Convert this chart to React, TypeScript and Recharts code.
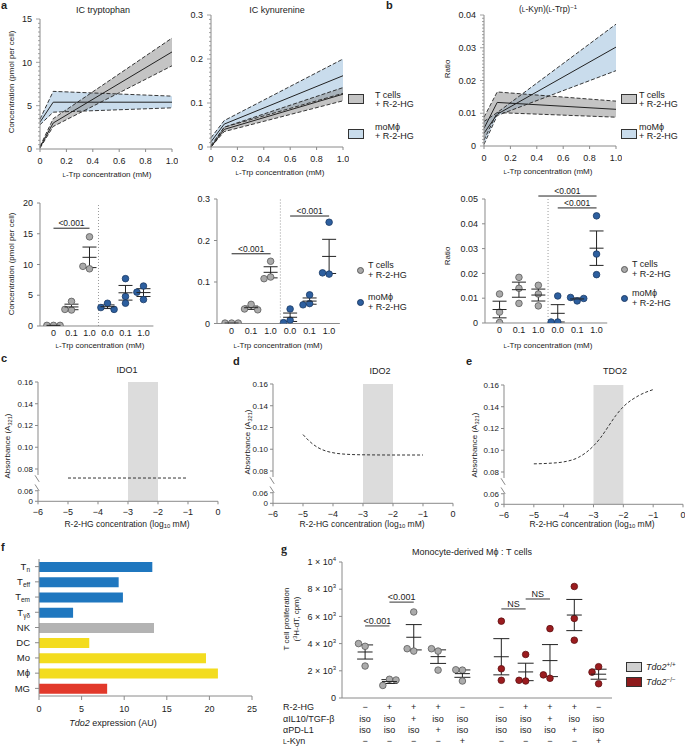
import React from 'react';
import {
  ComposedChart,
  ScatterChart,
  BarChart,
  Area,
  Line,
  Scatter,
  Bar,
  Cell,
  XAxis,
  YAxis,
  ErrorBar,
  ReferenceLine,
  ReferenceArea,
} from 'recharts';

const FONT = '"Liberation Sans", Arial, Helvetica, sans-serif';
const INK = '#222';
const AXIS = '#8a8a8a';
const TICK = { fontSize: 9, fill: INK };
const TICK_SMALL = { fontSize: 8, fill: INK };

// ---- a/b top: intracellular levels vs L-Trp dose (mean with SEM band)
const doses = [0, 0.1, 1.0];

const trpTcellMean = [0.2, 3.0, 11.2];
const trpTcellLow = [0.1, 2.6, 9.6];
const trpTcellHigh = [0.3, 3.5, 12.8];
const trpMacMean = [3.1, 5.4, 5.4];
const trpMacLow = [2.8, 4.25, 4.75];
const trpMacHigh = [3.45, 6.65, 6.1];

const kynTcellMean = [0.0, 0.04, 0.12];
const kynTcellLow = [0.0, 0.035, 0.105];
const kynTcellHigh = [0.001, 0.045, 0.135];
const kynMacMean = [0.012, 0.052, 0.162];
const kynMacLow = [0.004, 0.045, 0.122];
const kynMacHigh = [0.021, 0.06, 0.2];

const ratioTcellMean = [0.0054, 0.0133, 0.0112];
const ratioTcellLow = [0.0018, 0.0102, 0.0088];
const ratioTcellHigh = [0.0088, 0.0165, 0.0137];
const ratioMacMean = [0.0039, 0.0097, 0.0302];
const ratioMacLow = [0.0005, 0.0093, 0.023];
const ratioMacHigh = [0.0075, 0.0102, 0.0372];

// ---- a/b bottom: single replicates
const doseLabels = ['0', '0.1', '1.0', '0.0', '0.1', '1.0'];
const trpTcellDots = [[0.1, 0.1, 0.1], [4.0, 2.6, 2.7], [14.5, 9.3, 9.7]];
const trpMacDots = [[3.7, 3.0, 2.7], [7.7, 4.8, 3.7], [6.5, 5.5, 4.3]];
const kynTcellDots = [[0.001, 0.001, 0.001], [0.046, 0.035, 0.033], [0.15, 0.112, 0.108]];
const kynMacDots = [[0.035, 0.008, 0.002], [0.069, 0.048, 0.045], [0.244, 0.119, 0.122]];
const ratioTcellDots = [[0.0117, 0.0044, 0.0002], [0.0184, 0.014, 0.0079], [0.0152, 0.0117, 0.0069]];
const ratioMacDots = [[0.0109, 0.0004, 0.0004], [0.0089, 0.0103, 0.0099], [0.0432, 0.0278, 0.0195]];

const trpSigPairs = [[0, 2]];
const trpSigLevels = [15.9];
const kynSigPairs = [[0, 2], [3, 5]];
const kynSigLevels = [0.168, 0.259];
const ratioSigPairs = [[2, 5], [3, 5]];
const ratioSigLevels = [0.0512, 0.0464];

// ---- c/d/e: absorbance vs log10 R-2-HG
const ido1LogDose = [-5, -4, -3, -2, -1];
const ido1Abs = [0.0717, 0.0717, 0.0717, 0.0717, 0.0717];
const ido2LogDose = [-5, -4.75, -4.5, -4.25, -4, -3.5, -3, -2, -1];
const ido2Abs = [0.1135, 0.1065, 0.1015, 0.0985, 0.0968, 0.0953, 0.0949, 0.0947, 0.0947];
const tdo2LogDose = [-5, -4.5, -4, -3.5, -3, -2.75, -2.5, -2.25, -2, -1.5, -1];
const tdo2Abs = [0.0875, 0.088, 0.0893, 0.0935, 0.104, 0.112, 0.122, 0.132, 0.14, 0.15, 0.1558];

// ---- f: Tdo2 expression by cell type
const cellTypes = ['T_n', 'T_eff', 'T_em', 'T_γδ', 'NK', 'DC', 'Mo', 'Mϕ', 'MG'];
const lineage = ['T', 'T', 'T', 'T', 'NK', 'myeloid', 'myeloid', 'myeloid', 'microglia'];
const tdo2Expression = [13.3, 9.35, 9.85, 4.0, 13.5, 5.9, 19.6, 21.0, 8.0];

// ---- g: T cell proliferation
const genotype = ['wt', 'wt', 'wt', 'wt', 'wt', 'ko', 'ko', 'ko', 'ko', 'ko'];
const prolifDots = [
  [3800, 4000, 2350],
  [1375, 925, 1325],
  [6325, 3450, 3625],
  [3450, 3625, 2050],
  [2050, 2075, 1250],
  [5650, 2150, 1300],
  [3200, 1250, 1300],
  [5100, 1450, 1700],
  [8200, 5850, 4250],
  [2300, 1900, 1050],
];
const r2hgRow = ['−', '+', '+', '+', '−', '−', '+', '+', '+', '−'];
const il10Row = ['iso', 'iso', '+', 'iso', 'iso', 'iso', 'iso', '+', 'iso', 'iso'];
const pdl1Row = ['iso', 'iso', 'iso', '+', 'iso', 'iso', 'iso', 'iso', '+', 'iso'];
const kynRow = ['−', '−', '−', '−', '+', '−', '−', '−', '−', '+'];
const gSigPairs = [[0, 1], [1, 2], [5, 6], [6, 7]];
const gSigLevels = [5300, 7050, 6550, 7280];
const gSigText = ['<0.001', '<0.001', 'NS', 'NS'];

const LINEAGE_FILL: Record<string, string> = {
  T: '#1f77bf',
  NK: '#b3b3b3',
  myeloid: '#f3dc1f',
  microglia: '#e2392b',
};

type Box = { x: number; y: number; w: number; h: number };
type Pad = { l: number; r: number; t: number; b: number };

function place(box: Box, pad: Pad) {
  return {
    style: { position: 'absolute' as const, left: box.x - pad.l, top: box.y - pad.t },
    width: box.w + pad.l + pad.r,
    height: box.h + pad.t + pad.b,
    margin: { top: pad.t, right: pad.r, bottom: 0, left: 0 },
  };
}

const avg = (v: number[]) => v.reduce((a, b) => a + b, 0) / v.length;
const sem = (v: number[]) => {
  const m = avg(v);
  const sd = Math.sqrt(v.reduce((a, b) => a + (b - m) ** 2, 0) / (v.length - 1));
  return sd / Math.sqrt(v.length);
};

// spread replicates sideways when they would overlap
function swarm(values: number[], pos: number, pxPerY: number, pxPerX: number, d = 6.6) {
  const placed: { dx: number; py: number }[] = [];
  return values.map((v) => {
    const py = v * pxPerY;
    let dx = 0;
    for (const k of [0, -1, 1, -2, 2]) {
      const cand = k * d;
      if (placed.every((p) => Math.hypot(p.dx - cand, p.py - py) >= d * 0.95)) {
        dx = cand;
        break;
      }
    }
    placed.push({ dx, py });
    return { x: pos + dx / pxPerX, y: v };
  });
}

const dotShape = (fill: string, stroke: string) => (p: any) => (
  <circle cx={p.cx} cy={p.cy} r={3.3} fill={fill} stroke={stroke} strokeWidth={0.8} />
);
const meanShape = (half: number) => (p: any) => (
  <line x1={p.cx - half} x2={p.cx + half} y1={p.cy} y2={p.cy} stroke={INK} strokeWidth={1} />
);

function rulerTick(major: number, fmt: (v: number) => string) {
  return (p: any) => {
    const v = p.payload.value;
    const isMajor = Math.abs(v / major - Math.round(v / major)) < 1e-6;
    const len = isMajor ? 4 : 2;
    return (
      <g>
        <line x1={p.x - len} x2={p.x} y1={p.y} y2={p.y} stroke={AXIS} strokeWidth={0.8} />
        {isMajor && (
          <text x={p.x - 8} y={p.y + 3.2} textAnchor="end" fontSize={9} fill={INK}>
            {fmt(v)}
          </text>
        )}
      </g>
    );
  };
}

function BandChart({ box, yMax, major, minor, fmt, tMean, tLow, tHigh, mMean, mLow, mHigh }: any) {
  const pad = { l: 40, r: 6, t: 6, b: 22 };
  const f = place(box, pad);
  const data = doses.map((x, i) => ({
    x,
    tMean: tMean[i],
    tLow: tLow[i],
    tHigh: tHigh[i],
    tBand: [tLow[i], tHigh[i]],
    mMean: mMean[i],
    mLow: mLow[i],
    mHigh: mHigh[i],
    mBand: [mLow[i], mHigh[i]],
  }));
  const yTicks = Array.from({ length: Math.round(yMax / minor) + 1 }, (_, i) => +(i * minor).toFixed(6));
  const dash = { stroke: INK, strokeWidth: 0.9, strokeDasharray: '4 2', dot: false, activeDot: false, isAnimationActive: false, type: 'linear' as const };
  const solid = { stroke: INK, strokeWidth: 1, dot: false, activeDot: false, isAnimationActive: false, type: 'linear' as const };
  return (
    <div style={f.style}>
      <ComposedChart width={f.width} height={f.height} margin={f.margin} data={data}>
        <XAxis
          type="number"
          dataKey="x"
          domain={[0, 1]}
          ticks={[0, 0.2, 0.4, 0.6, 0.8, 1]}
          interval={0}
          tickFormatter={(v) => (v === 0 ? '0' : v.toFixed(1))}
          height={pad.b}
          tick={TICK}
          tickSize={3}
          tickMargin={6}
          axisLine={{ stroke: AXIS }}
          tickLine={{ stroke: AXIS }}
        />
        <YAxis
          type="number"
          domain={[0, yMax]}
          ticks={yTicks}
          interval={0}
          width={pad.l}
          tick={rulerTick(major, fmt)}
          tickSize={0}
          tickMargin={0}
          tickLine={false}
          axisLine={{ stroke: AXIS }}
          allowDataOverflow
        />
        <Area type="linear" dataKey="mBand" fill="#9dbfdd" fillOpacity={0.55} stroke="none" isAnimationActive={false} />
        <Area type="linear" dataKey="tBand" fill="#8a8a8a" fillOpacity={0.5} stroke="none" isAnimationActive={false} />
        <Line dataKey="mLow" {...dash} />
        <Line dataKey="mHigh" {...dash} />
        <Line dataKey="tLow" {...dash} />
        <Line dataKey="tHigh" {...dash} />
        <Line dataKey="mMean" {...solid} />
        <Line dataKey="tMean" {...solid} />
      </ComposedChart>
    </div>
  );
}

const DOT_OFFSET = 0.75;
const DOT_DOMAIN = 6.3;

function DotPanel({ box, slot, yMax, yTicks, fmt, tDots, mDots, sigPairs, sigLevels }: any) {
  const pad = { l: 40, r: 8, t: 34, b: 16 };
  const plot = { ...box, w: DOT_DOMAIN * slot };
  const f = place(plot, pad);
  const pxY = box.h / yMax;
  const groups: number[][] = [...tDots, ...mDots];
  const pos = groups.map((_, i) => i + DOT_OFFSET);
  const tPts: any[] = [];
  const mPts: any[] = [];
  const means = groups.map((vals, i) => {
    (i < tDots.length ? tPts : mPts).push(...swarm(vals, pos[i], pxY, slot));
    return { x: pos[i], y: avg(vals), err: sem(vals) };
  });
  return (
    <div style={f.style}>
      <ScatterChart width={f.width} height={f.height} margin={f.margin}>
        <XAxis
          type="number"
          dataKey="x"
          domain={[0, DOT_DOMAIN]}
          ticks={pos}
          interval={0}
          tickFormatter={(_v, i) => doseLabels[i]}
          height={pad.b}
          tick={TICK}
          tickSize={0}
          tickMargin={4}
          tickLine={false}
          axisLine={{ stroke: AXIS }}
          allowDataOverflow
        />
        <YAxis
          type="number"
          dataKey="y"
          domain={[0, yMax]}
          ticks={yTicks}
          interval={0}
          tickFormatter={fmt}
          width={pad.l}
          tick={TICK}
          tickSize={3}
          tickMargin={4}
          tickLine={{ stroke: AXIS }}
          axisLine={{ stroke: AXIS }}
          allowDataOverflow
        />
        <ReferenceLine x={DOT_OFFSET + 2.5} stroke="#9a9a9a" strokeDasharray="1 2" />
        {sigPairs.map(([a, b]: number[], i: number) => (
          <ReferenceLine
            key={i}
            segment={[
              { x: pos[a], y: sigLevels[i] },
              { x: pos[b], y: sigLevels[i] },
            ]}
            stroke={INK}
            strokeWidth={1}
            ifOverflow="visible"
            label={{ value: '<0.001', position: 'top', offset: 2, fontSize: 8.5, fill: INK }}
          />
        ))}
        <Scatter data={tPts} shape={dotShape('#a9a9a9', '#5a5a5a')} isAnimationActive={false} />
        <Scatter data={mPts} shape={dotShape('#2d5f9f', '#1c3b66')} isAnimationActive={false} />
        <Scatter data={means} shape={meanShape(7)} isAnimationActive={false}>
          <ErrorBar dataKey="err" width={7} stroke={INK} strokeWidth={1} direction="y" />
        </Scatter>
      </ScatterChart>
    </div>
  );
}

const ABS_ZERO = 0.0503;
const absTicks = [ABS_ZERO, 0.06, 0.08, 0.1, 0.12, 0.14, 0.16];
const breakMarks = [0.0712, 0.0628];

function AbsPanel({ box, xs, ys }: any) {
  const pad = { l: 34, r: 6, t: 4, b: 20 };
  const f = place(box, pad);
  const data = xs.map((x: number, i: number) => ({ x, y: ys[i] }));
  return (
    <div style={f.style}>
      <ComposedChart width={f.width} height={f.height} margin={f.margin} data={data}>
        <XAxis
          type="number"
          dataKey="x"
          domain={[-6, 0]}
          ticks={[-6, -5, -4, -3, -2, -1, 0]}
          interval={0}
          tickFormatter={(v) => (v < 0 ? `−${Math.abs(v)}` : String(v))}
          height={pad.b}
          tick={TICK}
          tickSize={3}
          tickMargin={4}
          tickLine={{ stroke: AXIS }}
          axisLine={{ stroke: AXIS }}
        />
        <YAxis
          type="number"
          domain={[ABS_ZERO, 0.16]}
          ticks={absTicks}
          interval={0}
          tickFormatter={(v) => (v < 0.055 ? '0' : v.toFixed(2))}
          width={pad.l}
          tick={TICK_SMALL}
          tickSize={3}
          tickMargin={2}
          tickLine={{ stroke: AXIS }}
          axisLine={false}
          allowDataOverflow
        />
        <ReferenceArea x1={-3} x2={-2} fill="#dcdcdc" fillOpacity={1} stroke="none" />
        <ReferenceLine segment={[{ x: -6, y: 0.16 }, { x: -6, y: 0.0745 }]} stroke={AXIS} ifOverflow="visible" />
        <ReferenceLine segment={[{ x: -6, y: 0.0605 }, { x: -6, y: ABS_ZERO }]} stroke={AXIS} ifOverflow="visible" />
        {breakMarks.map((yc, i) => (
          <ReferenceLine
            key={i}
            segment={[
              { x: -6.1, y: yc + 0.003 },
              { x: -5.96, y: yc - 0.003 },
            ]}
            stroke={AXIS}
            ifOverflow="visible"
          />
        ))}
        <Line
          dataKey="y"
          type="monotone"
          stroke="#333"
          strokeWidth={1}
          strokeDasharray="3 2"
          dot={false}
          activeDot={false}
          isAnimationActive={false}
        />
      </ComposedChart>
    </div>
  );
}

const cellTick = (p: any) => {
  const [main, sub] = String(p.payload.value).split('_');
  return (
    <text x={p.x} y={p.y + 3.3} textAnchor="end" fontSize={9.5} fill={INK}>
      {main}
      {sub && (
        <tspan fontSize={6.5} dy={2}>
          {sub}
        </tspan>
      )}
    </text>
  );
};

function ExpressionPanel() {
  const pad = { l: 40, r: 10, t: 4, b: 24 };
  const f = place({ x: 39, y: 559, w: 213, h: 137 }, pad);
  const data = cellTypes.map((name, i) => ({ name, value: tdo2Expression[i], lineage: lineage[i] }));
  return (
    <div style={f.style}>
      <BarChart layout="vertical" width={f.width} height={f.height} margin={f.margin} data={data}>
        <XAxis
          type="number"
          domain={[0, 25]}
          ticks={[0, 5, 10, 15, 20, 25]}
          interval={0}
          height={pad.b}
          tick={TICK}
          tickSize={4}
          tickMargin={6}
          tickLine={{ stroke: AXIS }}
          axisLine={{ stroke: AXIS }}
        />
        <YAxis
          type="category"
          dataKey="name"
          width={pad.l}
          interval={0}
          tick={cellTick}
          tickSize={4}
          tickMargin={5}
          tickLine={{ stroke: AXIS }}
          axisLine={{ stroke: AXIS }}
        />
        <Bar dataKey="value" barSize={10} isAnimationActive={false}>
          {data.map((d, i) => (
            <Cell key={i} fill={LINEAGE_FILL[d.lineage]} />
          ))}
        </Bar>
      </BarChart>
    </div>
  );
}

const tableRows = [r2hgRow, il10Row, pdl1Row, kynRow];
const rowOffsets = [9, 21, 32, 43];

const tableTick = (p: any) => (
  <g>
    {tableRows.map((row, r) => (
      <text key={r} x={p.x} y={p.y + rowOffsets[r] + 3} textAnchor="middle" fontSize={9} fill={INK}>
        {row[p.index]}
      </text>
    ))}
  </g>
);

const powTick = (p: any) => {
  const v = p.payload.value;
  const exp = v >= 10000 ? 4 : 3;
  const mant = v / 10 ** exp;
  return (
    <text x={p.x} y={p.y + 3.2} textAnchor="end" fontSize={9} fill={INK}>
      {v === 0 ? (
        '0'
      ) : (
        <>
          {`${mant} × 10`}
          <tspan fontSize={6} dy={-4}>
            {exp}
          </tspan>
        </>
      )}
    </text>
  );
};

function ProliferationPanel() {
  const pad = { l: 46, r: 6, t: 8, b: 48 };
  const slot = 24.3;
  const f = place({ x: 342, y: 562, w: 270, h: 136 }, pad);
  const pos = genotype.map((_, i) => i + 0.95 + (i >= 5 ? 0.6 : 0));
  const pxY = 136 / 10000;
  const wt: any[] = [];
  const ko: any[] = [];
  const means = prolifDots.map((vals, i) => {
    (genotype[i] === 'wt' ? wt : ko).push(...swarm(vals, pos[i], pxY, slot));
    return { x: pos[i], y: avg(vals), err: sem(vals) };
  });
  return (
    <div style={f.style}>
      <ScatterChart width={f.width} height={f.height} margin={f.margin}>
        <XAxis
          type="number"
          dataKey="x"
          domain={[0, 11.1]}
          ticks={pos}
          interval={0}
          height={pad.b}
          tick={tableTick}
          tickSize={0}
          tickMargin={0}
          tickLine={false}
          axisLine={{ stroke: AXIS }}
        />
        <YAxis
          type="number"
          dataKey="y"
          domain={[0, 10000]}
          ticks={[0, 2000, 4000, 6000, 8000, 10000]}
          interval={0}
          width={pad.l}
          tick={powTick}
          tickSize={3}
          tickMargin={3}
          tickLine={{ stroke: AXIS }}
          axisLine={{ stroke: AXIS }}
        />
        {gSigPairs.map(([a, b], i) => (
          <ReferenceLine
            key={i}
            segment={[
              { x: pos[a], y: gSigLevels[i] },
              { x: pos[b], y: gSigLevels[i] },
            ]}
            stroke="#555"
            strokeWidth={1.2}
            ifOverflow="visible"
            label={{ value: gSigText[i], position: 'top', offset: 2, fontSize: 9, fill: INK }}
          />
        ))}
        <Scatter data={wt} shape={dotShape('#ababab', '#5a5a5a')} isAnimationActive={false} />
        <Scatter data={ko} shape={dotShape('#9b1c1f', '#5e1012')} isAnimationActive={false} />
        <Scatter data={means} shape={meanShape(7.5)} isAnimationActive={false}>
          <ErrorBar dataKey="err" width={8} stroke={INK} strokeWidth={1} direction="y" />
        </Scatter>
      </ScatterChart>
    </div>
  );
}

// ---- plain text helpers
function Txt({ x, y, children, size = 9, align = 'center', rotate = false, weight = 400, family, italic }: any) {
  const tx = align === 'center' ? '-50%' : align === 'right' ? '-100%' : '0';
  return (
    <div
      style={{
        position: 'absolute',
        left: x,
        top: y,
        transform: `translate(${tx}, -50%)${rotate ? ' rotate(-90deg)' : ''}`,
        fontSize: size,
        lineHeight: 1,
        whiteSpace: 'nowrap',
        fontWeight: weight,
        fontFamily: family || FONT,
        fontStyle: italic ? 'italic' : 'normal',
        color: INK,
      }}
    >
      {children}
    </div>
  );
}
const Sub = ({ children }: any) => <span style={{ fontSize: '0.7em', verticalAlign: '-0.3em' }}>{children}</span>;
const Sup = ({ children }: any) => <span style={{ fontSize: '0.7em', verticalAlign: '0.45em' }}>{children}</span>;
const SL = () => <span style={{ fontSize: '0.75em' }}>L</span>;

function Swatch({ x, y, w = 16, h = 10, fill }: any) {
  return (
    <div
      style={{
        position: 'absolute',
        left: x,
        top: y,
        width: w,
        height: h,
        background: fill,
        border: '1px solid #333',
        boxSizing: 'border-box',
      }}
    />
  );
}
function Disc({ x, y, fill, stroke }: any) {
  return (
    <div
      style={{
        position: 'absolute',
        left: x - 3.5,
        top: y - 3.5,
        width: 7,
        height: 7,
        borderRadius: '50%',
        background: fill,
        border: `0.8px solid ${stroke}`,
        boxSizing: 'border-box',
      }}
    />
  );
}

const TrpLabel = () => (
  <>
    <SL />-Trp concentration (mM)
  </>
);
const R2hgLabel = () => (
  <>
    R-2-HG concentration (log<Sub>10</Sub> mM)
  </>
);
const AbsLabel = () => (
  <>
    Absorbance (A<Sub>321</Sub>)
  </>
);

export default function App() {
  return (
    <div
      style={{
        position: 'absolute',
        left: 0,
        top: 0,
        width: 685,
        height: 746,
        background: '#fff',
        fontFamily: FONT,
        overflow: 'hidden',
      }}
    >
      {/* panel a/b top */}
      <BandChart
        box={{ x: 40, y: 19, w: 132, h: 130 }}
        yMax={15}
        major={5}
        minor={0.5}
        fmt={(v: number) => String(v)}
        tMean={trpTcellMean}
        tLow={trpTcellLow}
        tHigh={trpTcellHigh}
        mMean={trpMacMean}
        mLow={trpMacLow}
        mHigh={trpMacHigh}
      />
      <BandChart
        box={{ x: 211, y: 15, w: 132, h: 132 }}
        yMax={0.3}
        major={0.1}
        minor={0.01}
        fmt={(v: number) => (v === 0 ? '0' : v.toFixed(1))}
        tMean={kynTcellMean}
        tLow={kynTcellLow}
        tHigh={kynTcellHigh}
        mMean={kynMacMean}
        mLow={kynMacLow}
        mHigh={kynMacHigh}
      />
      <BandChart
        box={{ x: 484, y: 15, w: 132, h: 131 }}
        yMax={0.04}
        major={0.01}
        minor={0.001}
        fmt={(v: number) => (v === 0 ? '0' : v.toFixed(2))}
        tMean={ratioTcellMean}
        tLow={ratioTcellLow}
        tHigh={ratioTcellHigh}
        mMean={ratioMacMean}
        mLow={ratioMacLow}
        mHigh={ratioMacHigh}
      />

      {/* panel a/b bottom */}
      <DotPanel
        box={{ x: 40, y: 203, h: 123 }}
        slot={18}
        yMax={20}
        yTicks={[0, 5, 10, 15, 20]}
        fmt={(v: number) => String(v)}
        tDots={trpTcellDots}
        mDots={trpMacDots}
        sigPairs={trpSigPairs}
        sigLevels={trpSigLevels}
      />
      <DotPanel
        box={{ x: 217, y: 199, h: 124.5 }}
        slot={19.5}
        yMax={0.3}
        yTicks={[0, 0.1, 0.2, 0.3]}
        fmt={(v: number) => (v === 0 ? '0' : v.toFixed(1))}
        tDots={kynTcellDots}
        mDots={kynMacDots}
        sigPairs={kynSigPairs}
        sigLevels={kynSigLevels}
      />
      <DotPanel
        box={{ x: 485, y: 199, h: 124 }}
        slot={19.4}
        yMax={0.05}
        yTicks={[0, 0.01, 0.02, 0.03, 0.04, 0.05]}
        fmt={(v: number) => (v === 0 ? '0' : v.toFixed(2))}
        tDots={ratioTcellDots}
        mDots={ratioMacDots}
        sigPairs={ratioSigPairs}
        sigLevels={ratioSigLevels}
      />

      {/* panels c, d, e */}
      <AbsPanel box={{ x: 38, y: 382, w: 180, h: 119.3 }} xs={ido1LogDose} ys={ido1Abs} />
      <AbsPanel box={{ x: 273, y: 384, w: 180, h: 119.3 }} xs={ido2LogDose} ys={ido2Abs} />
      <AbsPanel box={{ x: 504, y: 385, w: 179, h: 119.3 }} xs={tdo2LogDose} ys={tdo2Abs} />

      <ExpressionPanel />
      <ProliferationPanel />

      {/* panel letters */}
      <Txt x={1} y={5} size={11} weight={700} align="left">a</Txt>
      <Txt x={386} y={5} size={11} weight={700} align="left">b</Txt>
      <Txt x={1} y={358} size={11} weight={700} align="left">c</Txt>
      <Txt x={233} y={361} size={11} weight={700} align="left">d</Txt>
      <Txt x={466} y={361} size={11} weight={700} align="left">e</Txt>
      <Txt x={1} y={547} size={11} weight={700} align="left">f</Txt>
      <Txt x={281} y={549} size={12} weight={700} align="left" family='"Liberation Serif", serif'>g</Txt>

      {/* titles */}
      <Txt x={103} y={10}>IC tryptophan</Txt>
      <Txt x={277} y={10}>IC kynurenine</Txt>
      <Txt x={548} y={9} size={8.5}>
        (<SL />-Kyn)(<SL />-Trp)<Sup>−1</Sup>
      </Txt>
      <Txt x={127} y={370}>IDO1</Txt>
      <Txt x={380} y={371}>IDO2</Txt>
      <Txt x={615} y={371}>TDO2</Txt>
      <Txt x={472} y={552}>Monocyte-derived Mϕ : T cells</Txt>

      {/* axis titles */}
      <Txt x={107} y={175} size={8}><TrpLabel /></Txt>
      <Txt x={280} y={173} size={8}><TrpLabel /></Txt>
      <Txt x={548} y={172} size={8}><TrpLabel /></Txt>
      <Txt x={100} y={346} size={8}><TrpLabel /></Txt>
      <Txt x={278} y={346} size={8}><TrpLabel /></Txt>
      <Txt x={548} y={346} size={8}><TrpLabel /></Txt>
      <Txt x={127} y={525} size={8.5}><R2hgLabel /></Txt>
      <Txt x={362} y={525} size={8.5}><R2hgLabel /></Txt>
      <Txt x={592} y={525} size={8.5}><R2hgLabel /></Txt>
      <Txt x={113} y={723} size={9}>
        <i>Tdo2</i> expression (AU)
      </Txt>

      <Txt x={12} y={82} size={8} rotate>Concentration (pmol per cell)</Txt>
      <Txt x={12} y={264} size={8} rotate>Concentration (pmol per cell)</Txt>
      <Txt x={448} y={69} size={8} rotate>Ratio</Txt>
      <Txt x={448} y={256} size={8} rotate>Ratio</Txt>
      <Txt x={9} y={446} size={8} rotate><AbsLabel /></Txt>
      <Txt x={249} y={442} size={8} rotate><AbsLabel /></Txt>
      <Txt x={476} y={445} size={8} rotate><AbsLabel /></Txt>
      <Txt x={287} y={619} size={8} rotate>T cell proliferation</Txt>
      <Txt x={297} y={619} size={8} rotate>
        (<Sup>3</Sup>H-dT, cpm)
      </Txt>

      {/* legends a/b top */}
      <Swatch x={348} y={94} fill="#c4c4c4" />
      <Txt x={375} y={95} align="left">T cells</Txt>
      <Txt x={375} y={104} align="left">+ R-2-HG</Txt>
      <Swatch x={348} y={129} fill="#c9dcec" />
      <Txt x={375} y={127} align="left">moMϕ</Txt>
      <Txt x={375} y={136} align="left">+ R-2-HG</Txt>

      <Swatch x={621} y={94} fill="#c4c4c4" />
      <Txt x={639} y={95} align="left">T cells</Txt>
      <Txt x={639} y={104} align="left">+ R-2-HG</Txt>
      <Swatch x={621} y={129} fill="#c9dcec" />
      <Txt x={639} y={127} align="left">moMϕ</Txt>
      <Txt x={639} y={136} align="left">+ R-2-HG</Txt>

      {/* legends a/b bottom */}
      <Disc x={360} y={270} fill="#a9a9a9" stroke="#5a5a5a" />
      <Txt x={368} y={265} align="left">T cells</Txt>
      <Txt x={368} y={275} align="left">+ R-2-HG</Txt>
      <Disc x={360} y={302} fill="#2d5f9f" stroke="#1c3b66" />
      <Txt x={368} y={297} align="left">moMϕ</Txt>
      <Txt x={368} y={307} align="left">+ R-2-HG</Txt>

      <Disc x={624} y={269} fill="#a9a9a9" stroke="#5a5a5a" />
      <Txt x={632} y={264} align="left">T cells</Txt>
      <Txt x={632} y={274} align="left">+ R-2-HG</Txt>
      <Disc x={624} y={298} fill="#2d5f9f" stroke="#1c3b66" />
      <Txt x={632} y={293} align="left">moMϕ</Txt>
      <Txt x={632} y={303} align="left">+ R-2-HG</Txt>

      {/* legend g */}
      <Swatch x={626} y={662} fill="#d0d0d0" />
      <Txt x={646} y={667} align="left">
        <i>Tdo2</i>
        <Sup>+/+</Sup>
      </Txt>
      <Swatch x={626} y={677} fill="#8e1a1c" />
      <Txt x={646} y={682} align="left">
        <i>Tdo2</i>
        <Sup>−/−</Sup>
      </Txt>

      {/* table row labels g */}
      <Txt x={283} y={707} align="left">R-2-HG</Txt>
      <Txt x={283} y={719} align="left">αIL10/TGF-β</Txt>
      <Txt x={283} y={730} align="left">αPD-L1</Txt>
      <Txt x={283} y={741} align="left">
        <SL />-Kyn
      </Txt>
    </div>
  );
}
